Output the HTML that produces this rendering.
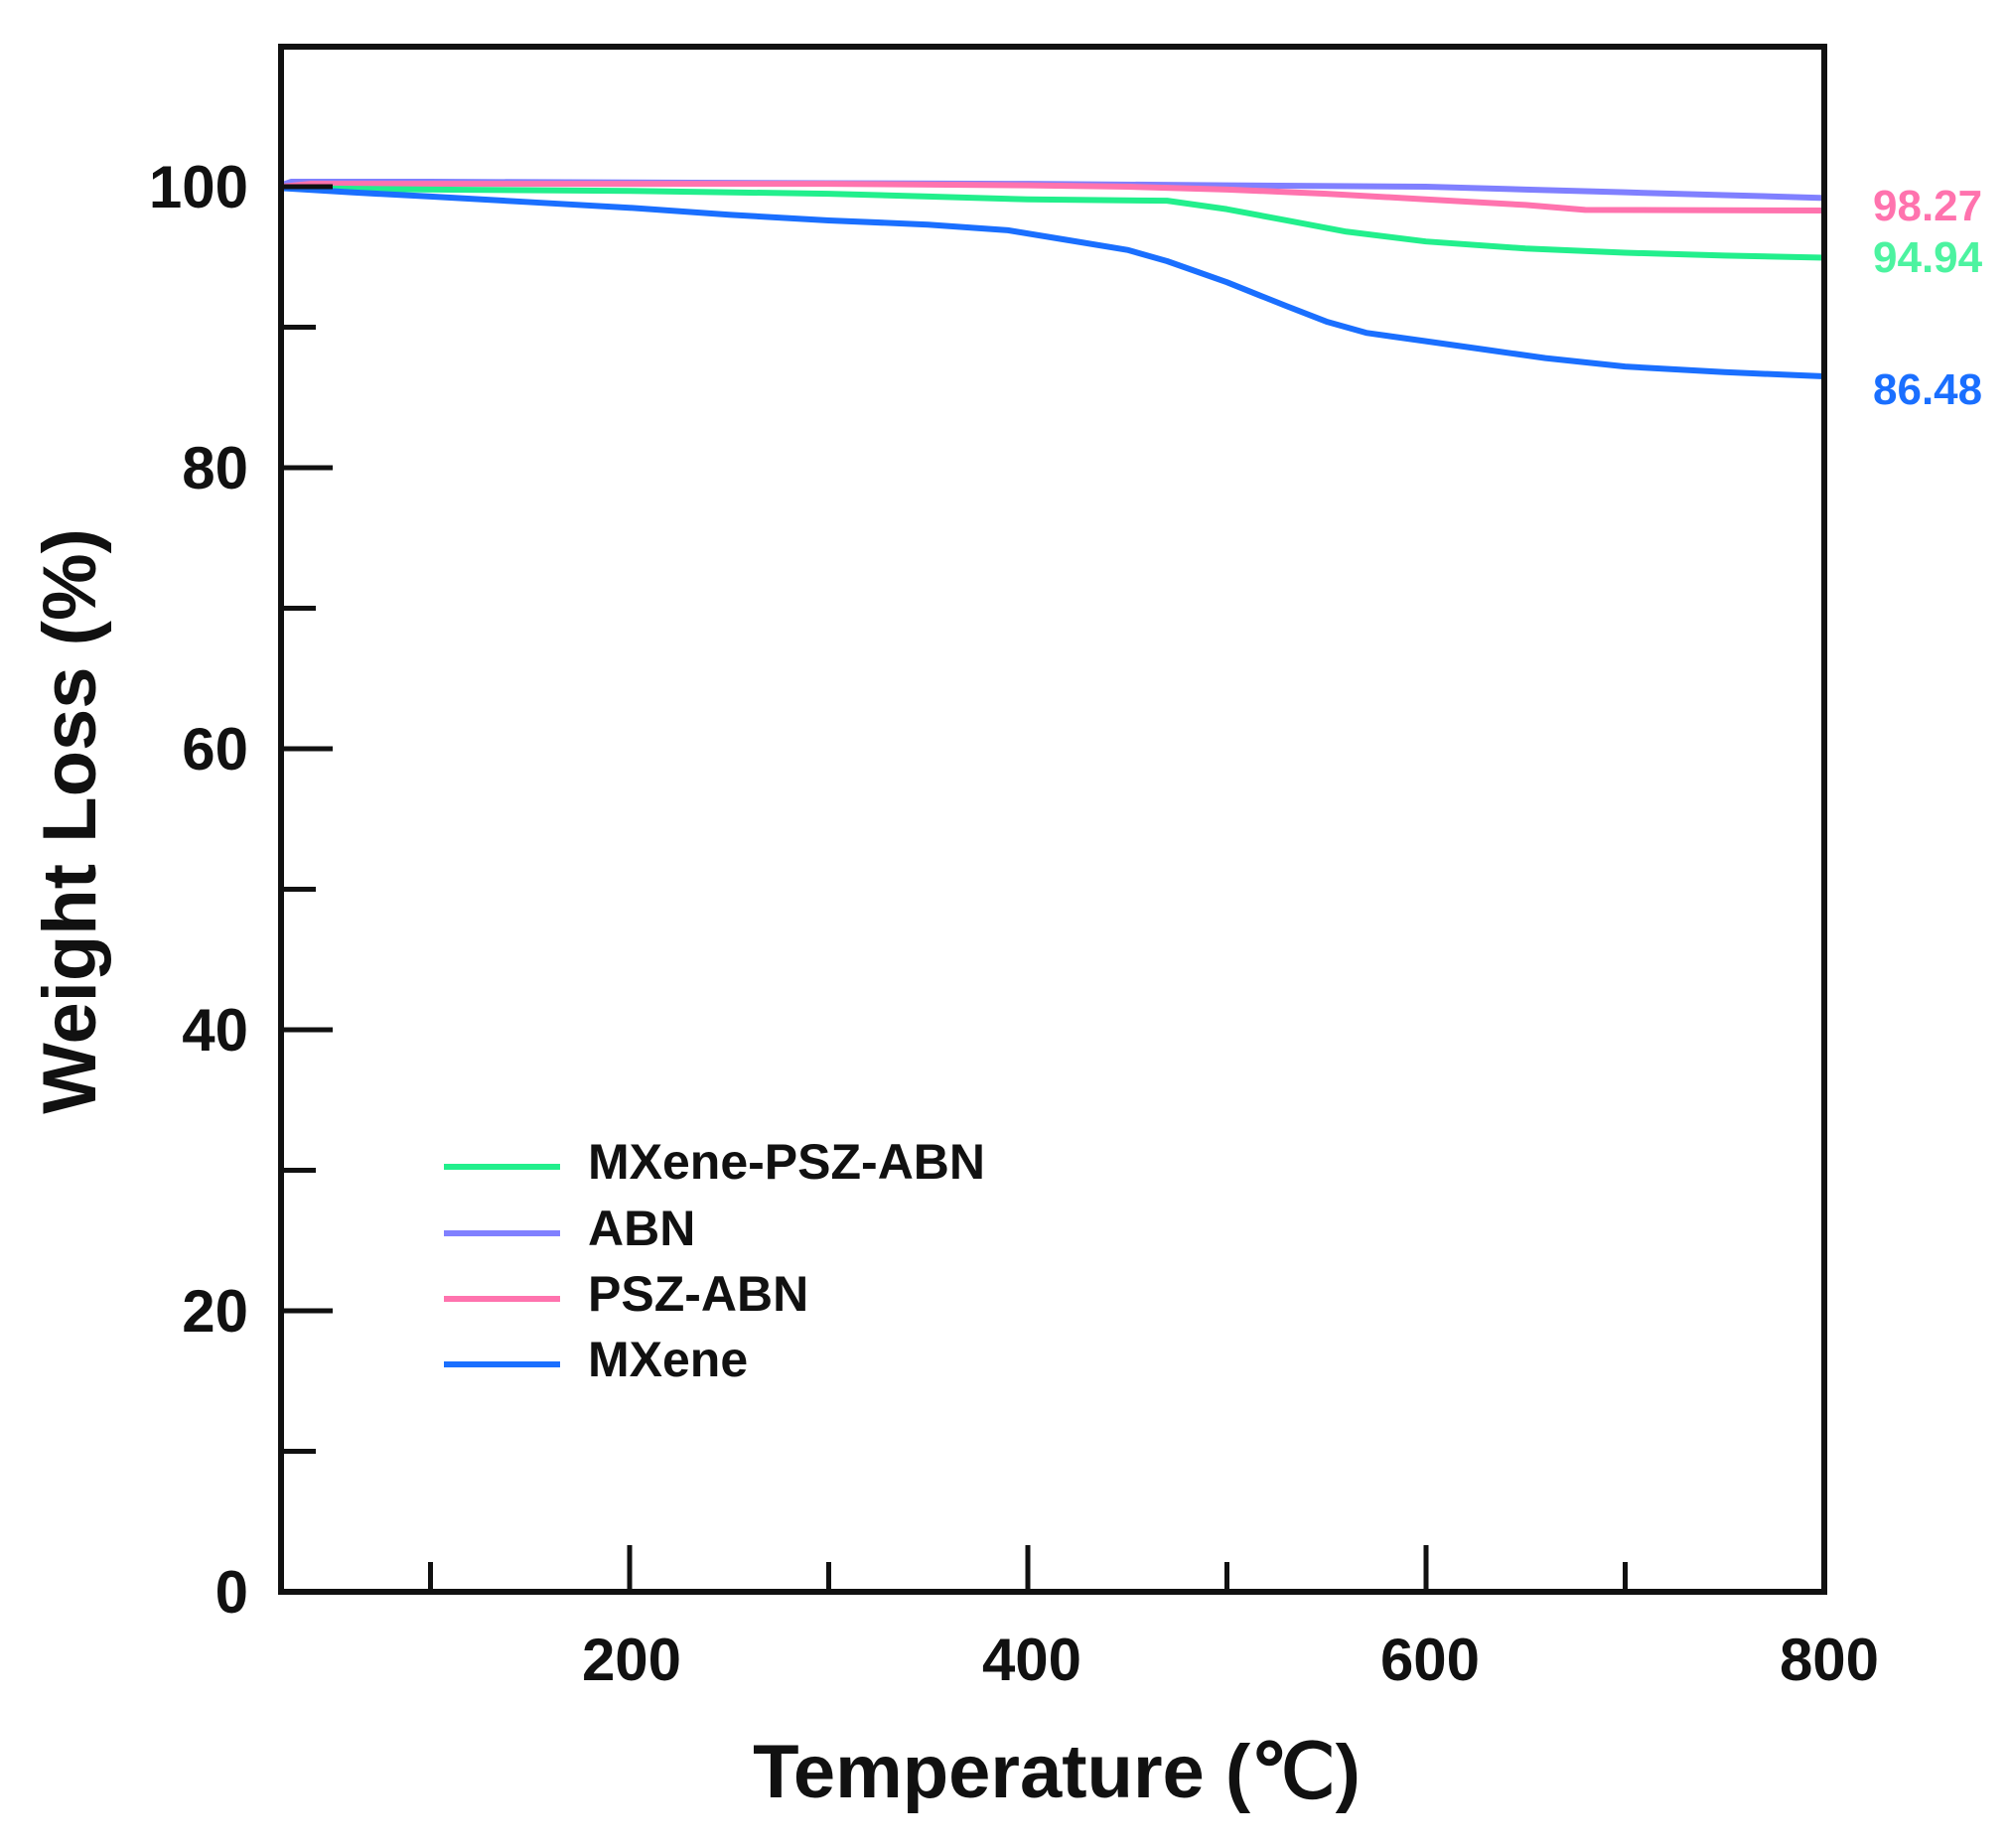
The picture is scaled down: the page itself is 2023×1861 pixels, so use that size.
<!DOCTYPE html>
<html><head><meta charset="utf-8"><style>
html,body{margin:0;padding:0;background:#fff}
svg{display:block}
text{font-family:"Liberation Sans",Arial,sans-serif;font-weight:bold;fill:#111}
</style></head><body>
<svg width="2023" height="1861" viewBox="0 0 2023 1861" xmlns="http://www.w3.org/2000/svg">
<rect width="2023" height="1861" fill="#fff"/>
<g transform="matrix(2.005 0 0 -14.15 232.9 1603)" fill="none" stroke-width="6" stroke-linejoin="round">
<polyline vector-effect="non-scaling-stroke" stroke="#8080ff" points="25,100.1 30,100.35 100,100.35 200,100.3 300,100.25 400,100.2 500,100.1 600,100 650,99.8 700,99.6 750,99.4 800,99.2"/>
<polyline vector-effect="non-scaling-stroke" stroke="#ff73ae" points="25,100 40,100.2 200,100.2 300,100.2 400,100.1 450,100 500,99.8 550,99.5 600,99.1 650,98.7 680,98.35 800,98.3"/>
<polyline vector-effect="non-scaling-stroke" stroke="#22ef8c" points="25,99.9 100,99.8 200,99.7 300,99.5 350,99.3 400,99.1 470,99 500,98.4 530,97.6 560,96.8 600,96.1 650,95.6 700,95.3 750,95.1 800,94.95"/>
<polyline vector-effect="non-scaling-stroke" stroke="#1a6fff" points="25,99.9 60,99.6 100,99.3 150,98.9 200,98.5 250,98 300,97.6 350,97.3 390,96.9 420,96.2 450,95.5 470,94.7 500,93.2 530,91.5 550,90.4 570,89.6 600,89 630,88.4 660,87.8 700,87.2 750,86.8 800,86.5"/>
</g>
<rect x="283" y="47" width="1554" height="1556" fill="none" stroke="#111" stroke-width="6"/>
<g stroke="#111" stroke-width="5">
<line x1="283" y1="188" x2="335" y2="188"/><line x1="283" y1="471" x2="335" y2="471"/>
<line x1="283" y1="754" x2="335" y2="754"/><line x1="283" y1="1037" x2="335" y2="1037"/>
<line x1="283" y1="1320" x2="335" y2="1320"/>
<line x1="283" y1="329.5" x2="318" y2="329.5"/><line x1="283" y1="612.5" x2="318" y2="612.5"/>
<line x1="283" y1="895.5" x2="318" y2="895.5"/><line x1="283" y1="1178.5" x2="318" y2="1178.5"/>
<line x1="283" y1="1461.5" x2="318" y2="1461.5"/>
<line x1="634" y1="1603" x2="634" y2="1556"/><line x1="1035" y1="1603" x2="1035" y2="1556"/>
<line x1="1436" y1="1603" x2="1436" y2="1556"/>
<line x1="433.5" y1="1603" x2="433.5" y2="1573"/><line x1="834.5" y1="1603" x2="834.5" y2="1573"/>
<line x1="1235.5" y1="1603" x2="1235.5" y2="1573"/><line x1="1636.5" y1="1603" x2="1636.5" y2="1573"/>
</g>
<g font-size="60" text-anchor="end">
<text x="250" y="209">100</text><text x="250" y="492">80</text><text x="250" y="775">60</text>
<text x="250" y="1058">40</text><text x="250" y="1341">20</text><text x="250" y="1624">0</text>
</g>
<g font-size="60" text-anchor="middle">
<text x="636" y="1692">200</text><text x="1039" y="1692">400</text>
<text x="1440" y="1692">600</text><text x="1842" y="1692">800</text>
</g>
<text x="1064" y="1810" font-size="76" text-anchor="middle">Temperature (℃)</text>
<text transform="translate(96 827) rotate(-90)" font-size="76" text-anchor="middle">Weight Loss (%)</text>
<g stroke-width="6">
<line x1="447" y1="1175" x2="564" y2="1175" stroke="#22ef8c"/>
<line x1="447" y1="1242" x2="564" y2="1242" stroke="#8080ff"/>
<line x1="447" y1="1308" x2="564" y2="1308" stroke="#ff73ae"/>
<line x1="447" y1="1374" x2="564" y2="1374" stroke="#1a6fff"/>
</g>
<g font-size="50">
<text x="592" y="1187">MXene-PSZ-ABN</text>
<text x="592" y="1254">ABN</text>
<text x="592" y="1320">PSZ-ABN</text>
<text x="592" y="1386">MXene</text>
</g>
<g font-size="44">
<text x="1886" y="222" style="fill:#ff73ae">98.27</text>
<text x="1886" y="274" style="fill:#4cf3a0">94.94</text>
<text x="1886" y="407" style="fill:#1a6fff">86.48</text>
</g>
</svg>
</body></html>
